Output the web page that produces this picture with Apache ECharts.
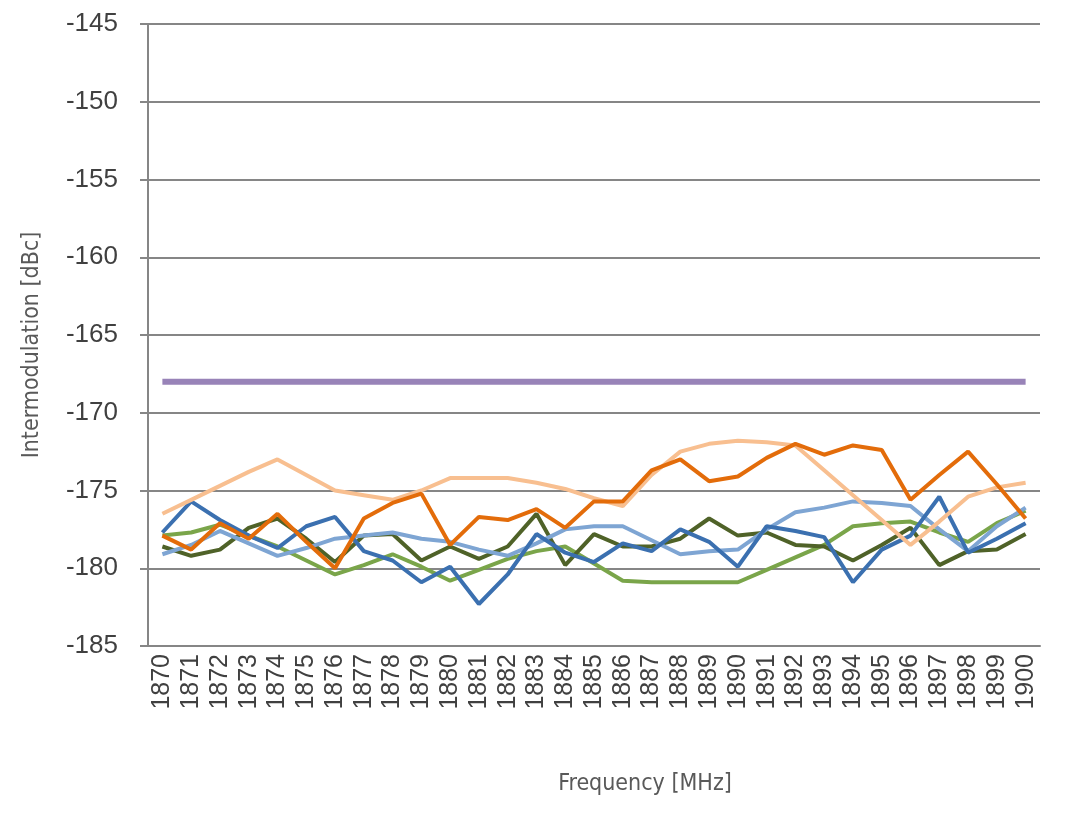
<!DOCTYPE html>
<html>
<head>
<meta charset="utf-8">
<script src="https://cdn.jsdelivr.net/npm/echarts@6/dist/echarts.min.js"></script>
<style>html,body{margin:0;padding:0;background:#fff}#c{width:1070px;height:813px}</style>
</head>
<body>
<div id="c"></div>
<script>
const categories = ['1870','1871','1872','1873','1874','1875','1876','1877','1878','1879','1880','1881','1882','1883','1884','1885','1886','1887','1888','1889','1890','1891','1892','1893','1894','1895','1896','1897','1898','1899','1900'];
const yTicks = { min: -185, max: -145, interval: 5 };
const limitLine = categories.map(() => -168);
const lightGreen = [-177.9,-177.7,-177.2,-177.9,-178.6,-179.5,-180.4,-179.8,-179.1,-179.9,-180.8,-180.1,-179.4,-178.9,-178.6,-179.7,-180.8,-180.9,-180.9,-180.9,-180.9,-180.1,-179.3,-178.5,-177.3,-177.1,-177.0,-177.7,-178.3,-177.1,-176.3];
const darkOlive = [-178.6,-179.2,-178.8,-177.4,-176.8,-178.1,-179.6,-177.9,-177.8,-179.5,-178.6,-179.4,-178.6,-176.5,-179.8,-177.8,-178.6,-178.6,-178.1,-176.8,-177.9,-177.7,-178.5,-178.6,-179.5,-178.5,-177.4,-179.8,-178.9,-178.8,-177.8];
const lightBlue = [-179.1,-178.5,-177.6,-178.4,-179.2,-178.7,-178.1,-177.9,-177.7,-178.1,-178.3,-178.8,-179.2,-178.4,-177.5,-177.3,-177.3,-178.2,-179.1,-178.9,-178.8,-177.5,-176.4,-176.1,-175.7,-175.8,-176.0,-177.5,-178.9,-177.3,-176.1];
const darkBlue = [-177.7,-175.7,-176.9,-177.9,-178.7,-177.3,-176.7,-178.9,-179.5,-180.9,-179.9,-182.3,-180.4,-177.8,-179.0,-179.6,-178.4,-178.9,-177.5,-178.3,-179.9,-177.3,-177.6,-178.0,-180.9,-178.8,-177.9,-175.4,-179.0,-178.1,-177.1];
const peach = [-176.5,-175.6,-174.7,-173.8,-173.0,-174.0,-175.0,-175.3,-175.6,-175.0,-174.2,-174.2,-174.2,-174.5,-174.9,-175.5,-176.0,-174.0,-172.5,-172.0,-171.8,-171.9,-172.1,-173.7,-175.3,-176.9,-178.5,-177.0,-175.4,-174.8,-174.5];
const darkOrange = [-177.9,-178.8,-177.1,-178.1,-176.5,-178.3,-180.0,-176.8,-175.8,-175.2,-178.5,-176.7,-176.9,-176.2,-177.4,-175.7,-175.7,-173.7,-173.0,-174.4,-174.1,-172.9,-172.0,-172.7,-172.1,-172.4,-175.6,-174.0,-172.5,-174.6,-176.8];

const chart = echarts.init(document.getElementById('c'));
const mk = (data, color, width) => ({
  type: 'line', data, symbol: 'none', smooth: false,
  lineStyle: { color, width }, itemStyle: { color }, animation: false
});
const titleFont = "'Liberation Sans Narrow','DejaVu Sans Condensed',sans-serif";
chart.setOption({
  animation: false,
  grid: { left: 148, right: 30, top: 24, bottom: 167 },
  xAxis: {
    type: 'category', data: categories, boundaryGap: true,
    name: 'Frequency [MHz]', nameLocation: 'middle', nameGap: 127,
    nameTextStyle: { fontFamily: titleFont, fontSize: 23, color: '#595959', padding: [0, 0, 0, 102] },
    axisLine: { show: true, lineStyle: { color: '#868686', width: 2 } },
    axisTick: { show: false },
    axisLabel: { interval: 0, rotate: 90, fontFamily: "'Liberation Sans',Arial,sans-serif", fontSize: 25, color: '#404040', margin: 8 },
    splitLine: { show: false }
  },
  yAxis: {
    type: 'value', min: yTicks.min, max: yTicks.max, interval: yTicks.interval,
    name: 'Intermodulation [dBc]', nameLocation: 'middle', nameGap: 104, nameRotate: 90,
    nameTextStyle: { fontFamily: titleFont, fontSize: 23, color: '#595959', padding: [0, 20, 0, 0] },
    axisLine: { show: true, lineStyle: { color: '#868686', width: 2 } },
    axisTick: { show: true, length: 8, lineStyle: { color: '#868686', width: 2 } },
    axisLabel: { fontFamily: "'Liberation Sans',Arial,sans-serif", fontSize: 26, color: '#404040', margin: 30 },
    splitLine: { show: true, lineStyle: { color: '#868686', width: 2 } }
  },
  series: [
    mk(limitLine, '#9883b8', 6),
    mk(lightGreen, '#7aa54a', 4),
    mk(darkOlive, '#4f6228', 4),
    mk(lightBlue, '#7ea5d3', 4),
    mk(darkBlue, '#3b70b0', 4),
    mk(peach, '#f8bf90', 4),
    mk(darkOrange, '#e36c0a', 4)
  ]
});
</script>
</body>
</html>
